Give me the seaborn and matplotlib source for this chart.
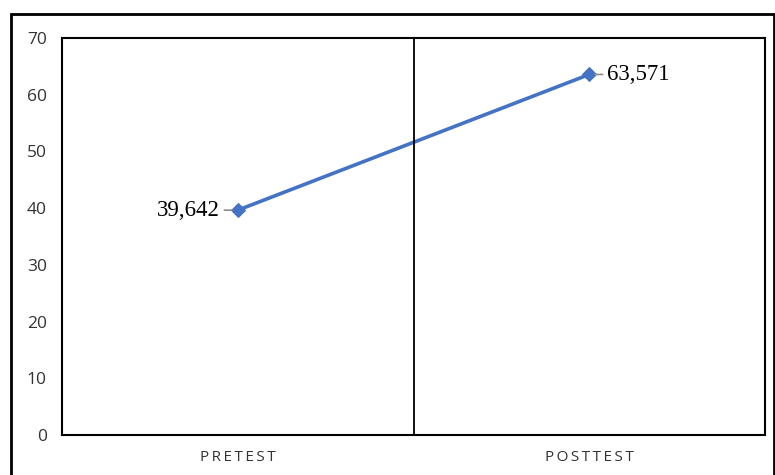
import matplotlib
matplotlib.use("Agg")
import matplotlib.pyplot as plt
import seaborn as sns
import pandas as pd
from matplotlib.patches import Rectangle

categories = ["PRETEST", "POSTTEST"]
values = [39.642, 63.571]
value_labels = ["39,642", "63,571"]
y_ticks = [0, 10, 20, 30, 40, 50, 60, 70]

sns.set_theme(style="white")
plt.rcParams['font.family'] = ['Open Sans', 'DejaVu Sans']

df = pd.DataFrame({"cat": categories, "val": values})

fig = plt.figure(figsize=(7.75, 4.75), dpi=100)
ax = fig.add_axes([62/775, 40/475, (765-62)/775, (435-38)/475])

sns.lineplot(data=df, x="cat", y="val", ax=ax, color="#4472C4", linewidth=2.6,
             marker="D", markersize=7, markeredgecolor="#4472C4", sort=False)

ax.set_xlim(-0.5, 1.5)
ax.set_ylim(0, 70)
ax.set_yticks(y_ticks)
ax.set_yticklabels([str(t) for t in y_ticks], color="#333333", fontsize=12.5)
ax.set_xticks(range(len(categories)))
spaced = ["\u2009".join(list(c)) for c in categories]
ax.set_xticklabels(spaced, color="#333333", fontsize=11)
ax.tick_params(axis="both", length=0)
ax.tick_params(axis="y", pad=11)
ax.tick_params(axis="x", pad=11)
ax.set_xlabel("")
ax.set_ylabel("")
for s in ax.spines.values():
    s.set_color("black")
    s.set_linewidth(1.5)
ax.axvline(0.5, color="black", linewidth=1.3)

# data labels with leader lines
offsets = [-13, 13]
has = ["right", "left"]
for i, (c, v, lab) in enumerate(zip(categories, values, value_labels)):
    ax.annotate(lab, xy=(i, v), xytext=(offsets[i], 0), textcoords="offset points",
                ha=has[i], va="center", fontsize=16.5, family="Liberation Serif", color="black",
                arrowprops=dict(arrowstyle="-", color="#8c8c8c", lw=1.2,
                                shrinkA=1, shrinkB=4))

# outer frame
fig.patches.append(Rectangle((11/775, -0.2), 763/775, 0.2 + (475-14)/475,
                             transform=fig.transFigure, fill=False,
                             edgecolor="black", linewidth=2))

fig.savefig("out.png", dpi=100)
